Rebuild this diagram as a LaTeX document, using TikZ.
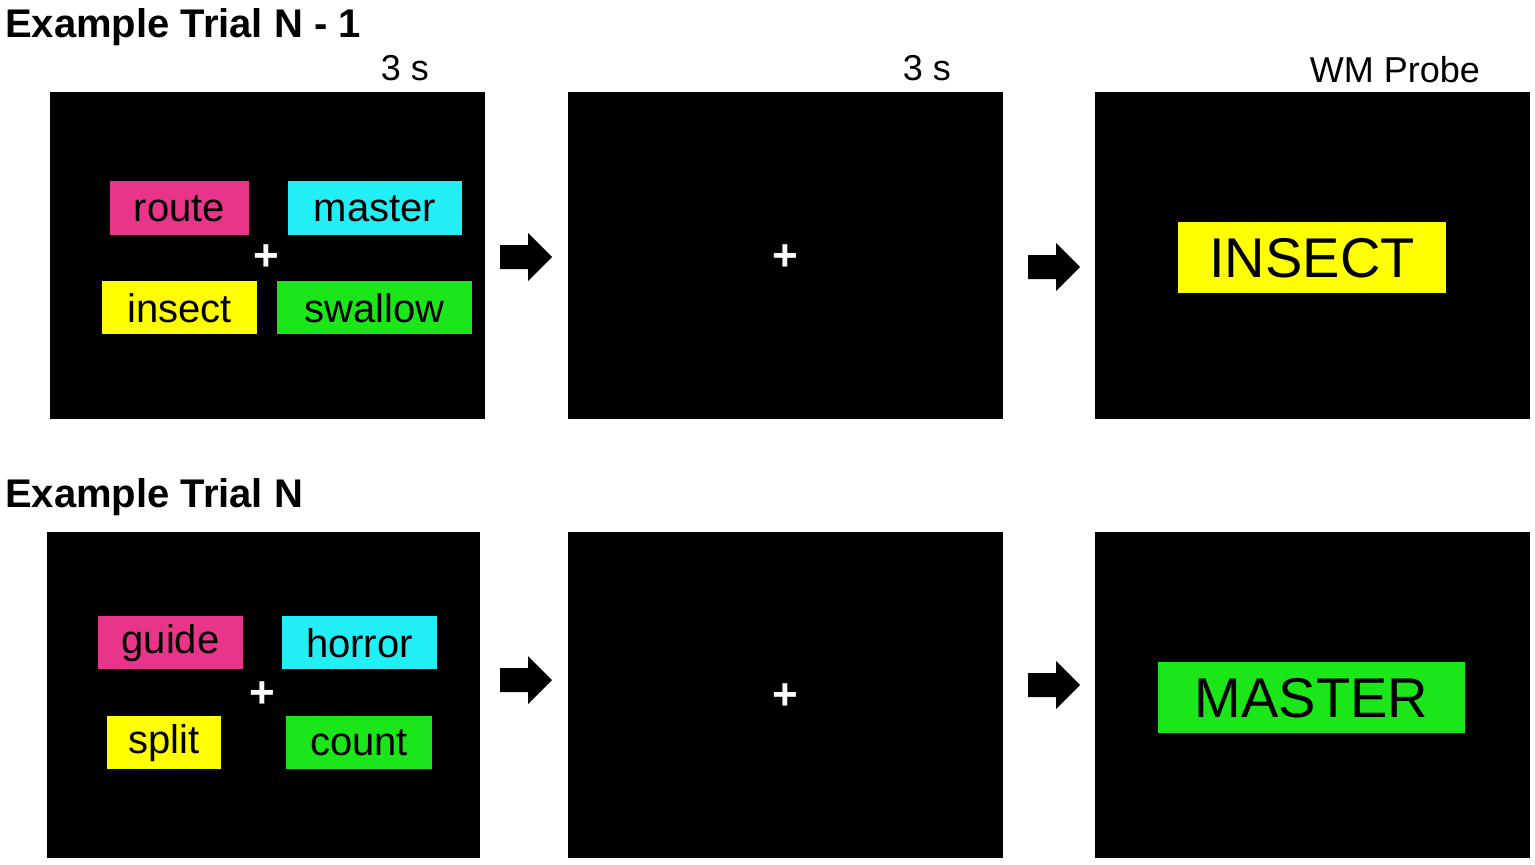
\documentclass[tikz,border=0pt]{standalone}
\usepackage{fontspec}
\setmainfont{Liberation Sans}
\definecolor{wpink}{HTML}{E8358A}
\definecolor{wcyan}{HTML}{22EEF5}
\definecolor{wyellow}{HTML}{FFFF00}
\definecolor{wgreen}{HTML}{1AE61A}
\tikzset{
 panel/.style={fill=black,draw=none},
 word/.style={font=\fontsize{40}{40}\selectfont,text=black,inner sep=0pt},
 probe/.style={font=\fontsize{56}{56}\selectfont,text=black,inner sep=0pt},
 plus/.style={text=white,font=\bfseries\fontsize{44}{44}\selectfont,inner sep=0pt},
 title/.style={font=\bfseries\fontsize{40}{40}\selectfont,anchor=west,inner sep=0pt},
 lbl/.style={font=\fontsize{36}{36}\selectfont,inner sep=0pt},
 blockarrow/.style={fill=black}
}
\begin{document}
\begin{tikzpicture}[x=1pt,y=-1pt]
\useasboundingbox (0,0) rectangle (1535,865);
\node[title] (t1) at (5,27) {Example Trial N - 1};
\node[title] (t2) at (5,497) {Example Trial N};
\node[lbl] (l1) at (405,68) {3 s};
\node[lbl] (l2) at (927,68) {3 s};
\node[lbl] (l3) at (1395,70) {WM Probe};
% panels
\fill[panel] (50,92) rectangle (485,419);
\fill[panel] (568,92) rectangle (1003,419);
\fill[panel] (1095,92) rectangle (1530,419);
\fill[panel] (47,532) rectangle (480,858);
\fill[panel] (568,532) rectangle (1003,858);
\fill[panel] (1095,532) rectangle (1530,858);
% top words
\fill[wpink] (110,181) rectangle (249,235); \node[word] (w1) at (179.5,209) {route};
\fill[wcyan] (288,181) rectangle (462,235); \node[word] (w2) at (375,209) {master};
\fill[wyellow] (102,281) rectangle (257,334); \node[word] (w3) at (179.5,308) {insect};
\fill[wgreen] (277,281) rectangle (472,334); \node[word] (w4) at (374.5,308) {swallow};
\node[plus] (p1) at (266,258) {+};
\node[plus] (p2) at (785,258) {+};
\fill[wyellow] (1178,222) rectangle (1446,293); \node[probe] (pr1) at (1312,258) {INSECT};
% bottom words
\fill[wpink] (98,616) rectangle (243,669); \node[word] (w5) at (170.5,643) {guide};
\fill[wcyan] (282,616) rectangle (437,669); \node[word] (w6) at (359.5,643) {horror};
\fill[wyellow] (107,716) rectangle (221,769); \node[word] (w7) at (164,743) {split};
\fill[wgreen] (286,716) rectangle (432,769); \node[word] (w8) at (359,743) {count};
\node[plus] (p3) at (262,695) {+};
\node[plus] (p4) at (785,697) {+};
\fill[wgreen] (1158,662) rectangle (1465,733); \node[probe] (pr2) at (1311.5,698) {MASTER};
% arrows
\foreach \ax/\ay in {500/257,1028/267,500/680,1028/685}{
 \fill[blockarrow] (\ax,\ay-12) -- (\ax+28,\ay-12) -- (\ax+28,\ay-24) -- (\ax+52,\ay) -- (\ax+28,\ay+24) -- (\ax+28,\ay+12) -- (\ax,\ay+12) -- cycle;
}
\end{tikzpicture}
\end{document}
